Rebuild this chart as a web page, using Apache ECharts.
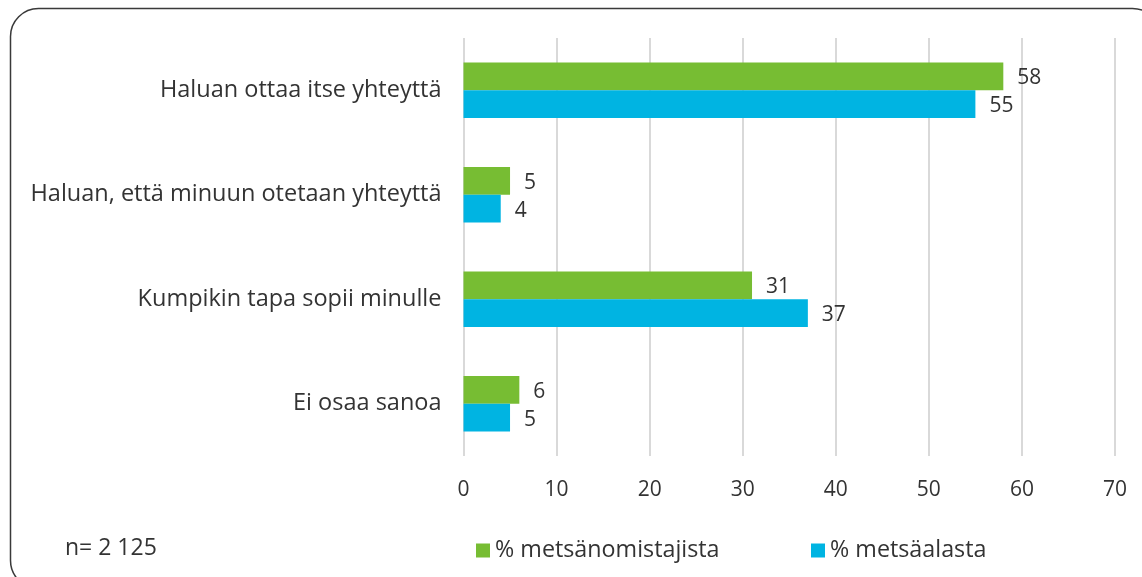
<!DOCTYPE html>
<html>
<head>
<meta charset="utf-8">
<script src="https://cdn.jsdelivr.net/npm/echarts@6/dist/echarts.min.js"></script>
<style>html,body{margin:0;padding:0;background:#fff;}#c{width:1142px;height:577px;}</style>
</head>
<body>
<div id="c"></div>
<script>
const categories = ['Haluan ottaa itse yhteyttä', 'Haluan, että minuun otetaan yhteyttä', 'Kumpikin tapa sopii minulle', 'Ei osaa sanoa'];
const seriesNames = ['% metsänomistajista', '% metsäalasta'];
const ownersValues = [58, 5, 31, 6];
const areaValues = [55, 4, 37, 5];
const xTicks = [0, 10, 20, 30, 40, 50, 60, 70];
const noteText = 'n= 2 125';

const FONT = 'Open Sans';
const FS = 21;
const TXT = '#333';
const chart = echarts.init(document.getElementById('c'));
const labelCfg = { show: true, position: 'right', distance: 14, offset: [0, 2], color: TXT, fontFamily: FONT, fontSize: FS };
chart.setOption({
  animation: false,
  textStyle: { fontFamily: FONT },
  grid: { left: 463.5, right: 27, top: 38, bottom: 121 },
  xAxis: {
    type: 'value', min: xTicks[0], max: xTicks[xTicks.length - 1], interval: 10,
    axisLine: { show: false }, axisTick: { show: false },
    axisLabel: { color: TXT, fontFamily: FONT, fontSize: FS, margin: 24 },
    splitLine: { show: true, lineStyle: { color: '#d9d9d9', width: 2 } }
  },
  yAxis: {
    type: 'category', data: categories, inverse: true,
    axisLine: { show: false }, axisTick: { show: false },
    axisLabel: { color: TXT, fontFamily: FONT, fontSize: 23.5, margin: 22 }
  },
  legend: [
    { data: [seriesNames[0]], left: 471, top: 534, itemWidth: 14, itemHeight: 14, itemGap: 8,
      textStyle: { color: TXT, fontFamily: FONT, fontSize: 23.3 }, icon: 'rect' },
    { data: [seriesNames[1]], left: 806, top: 534, itemWidth: 14, itemHeight: 14, itemGap: 8,
      textStyle: { color: TXT, fontFamily: FONT, fontSize: 23.3 }, icon: 'rect' }
  ],
  series: [
    { name: seriesNames[0], type: 'bar', data: ownersValues, barGap: '0%', barCategoryGap: '47%',
      itemStyle: { color: '#77bd33' }, label: labelCfg },
    { name: seriesNames[1], type: 'bar', data: areaValues, barGap: '0%', barCategoryGap: '47%',
      itemStyle: { color: '#00b4e2' }, label: labelCfg }
  ],
  graphic: [
    { type: 'rect', shape: { x: 10.5, y: 8.5, width: 1150, height: 580, r: 28 },
      style: { fill: 'none', stroke: '#3a3a3a', lineWidth: 1.5 }, silent: true },
    { type: 'text', left: 65, top: 537, style: { text: noteText, fill: TXT, font: '23px "Open Sans"' } }
  ]
});
</script>
</body>
</html>
